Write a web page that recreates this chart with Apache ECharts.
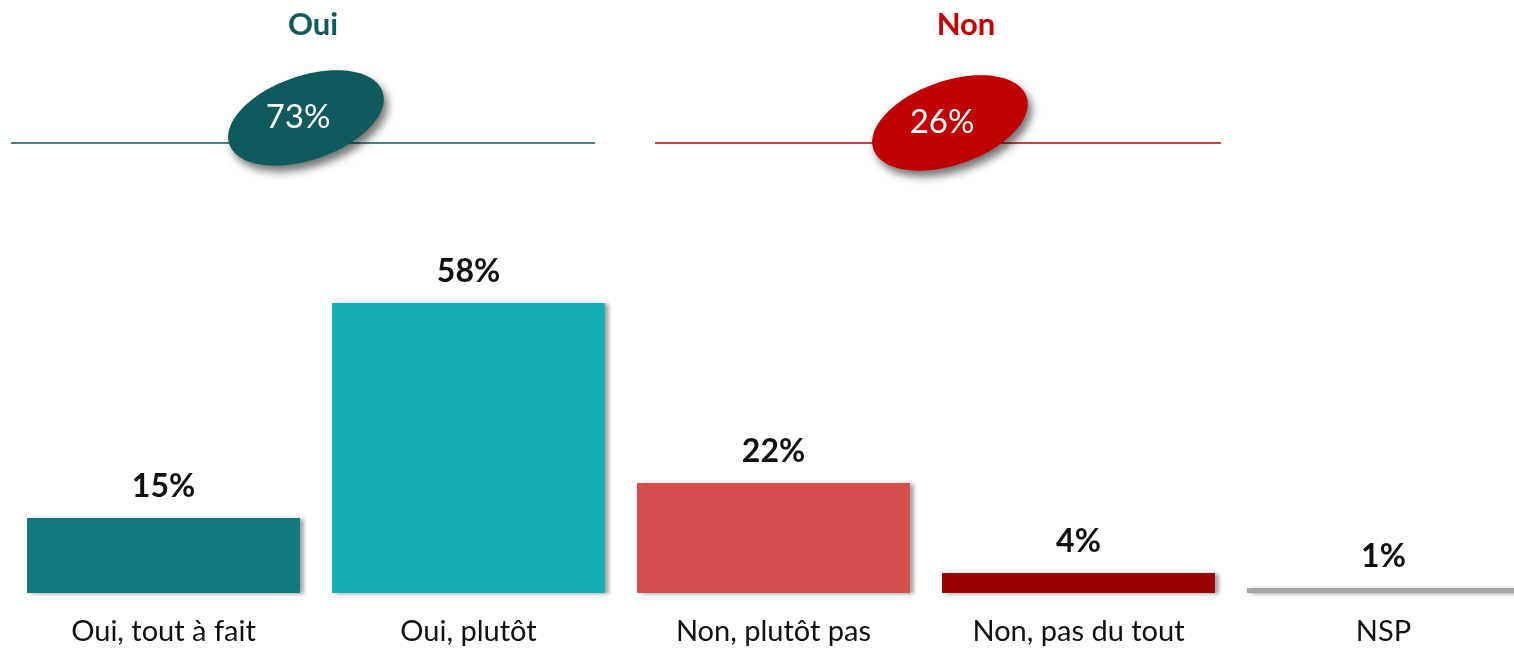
<!DOCTYPE html>
<html>
<head>
<meta charset="utf-8">
<script src="https://cdn.jsdelivr.net/npm/echarts@6/dist/echarts.min.js"></script>
<style>
  html, body { margin: 0; padding: 0; background: #fff; }
  #app { width: 1514px; height: 648px; }
</style>
</head>
<body>
<div id="app"></div>
<script>
const categories = ['Oui, tout à fait', 'Oui, plutôt', 'Non, plutôt pas', 'Non, pas du tout', 'NSP'];
const values = [15, 58, 22, 4, 1];
const barColors = ['#107a80', '#14afb6', '#d64f50', '#990000', '#a6a6a6'];

const groupNames = ['Oui', 'Non'];
const groupTotals = [73, 26];
const groupColors = ['#0e5a5c', '#c00000'];

const chart = echarts.init(document.getElementById('app'));

// bandeau du haut : titre, trait, ellipse avec le total
const groupBlock = (i, cx, lineX1, lineX2, ex, ey) => [
  {
    type: 'text', x: cx, y: 25,
    style: {
      text: groupNames[i], fill: groupColors[i], font: 'bold 31px Lato',
      align: 'center', verticalAlign: 'middle'
    }
  },
  {
    type: 'line',
    shape: { x1: lineX1, y1: 143, x2: lineX2, y2: 143 },
    style: { stroke: groupColors[i], lineWidth: 1.5 }
  },
  {
    type: 'ellipse', x: ex, y: ey, rotation: 0.33,
    shape: { cx: 0, cy: 0, rx: 81, ry: 42 },
    style: {
      fill: groupColors[i],
      shadowColor: 'rgba(0,0,0,0.55)', shadowBlur: 8, shadowOffsetX: 4, shadowOffsetY: 6
    }
  },
  {
    type: 'text', x: ex - 8, y: ey - 1,
    style: {
      text: groupTotals[i] + '%', fill: '#fff', font: '33px Lato',
      align: 'center', verticalAlign: 'middle'
    }
  }
];

const option = {
  animation: false,
  grid: { left: 11, top: 303, bottom: 55, width: 1525, containLabel: false, outerBoundsMode: 'none' },
  xAxis: {
    type: 'category',
    data: categories,
    axisLine: { show: false },
    axisTick: { show: false },
    axisLabel: { color: '#111', fontFamily: 'Lato', fontSize: 29, margin: 24, interval: 0 }
  },
  yAxis: {
    type: 'value', min: 0, max: 58, show: false,
    splitLine: { show: false }
  },
  series: [{
    type: 'bar',
    barCategoryGap: '10.5%',
    data: values.map((v, i) => ({
      value: v,
      itemStyle: { color: barColors[i] }
    })),
    itemStyle: {
      shadowColor: 'rgba(0,0,0,0.35)', shadowBlur: 4, shadowOffsetX: 4, shadowOffsetY: 1
    },
    label: {
      show: true, position: 'top', distance: 15,
      formatter: '{c}%', color: '#111', fontFamily: 'Lato', fontWeight: 'bold', fontSize: 32
    }
  }],
  graphic: [
    ...groupBlock(0, 313, 11, 595, 306, 118),
    ...groupBlock(1, 966, 655, 1221, 950, 123)
  ]
};

chart.setOption(option);
</script>
</body>
</html>
